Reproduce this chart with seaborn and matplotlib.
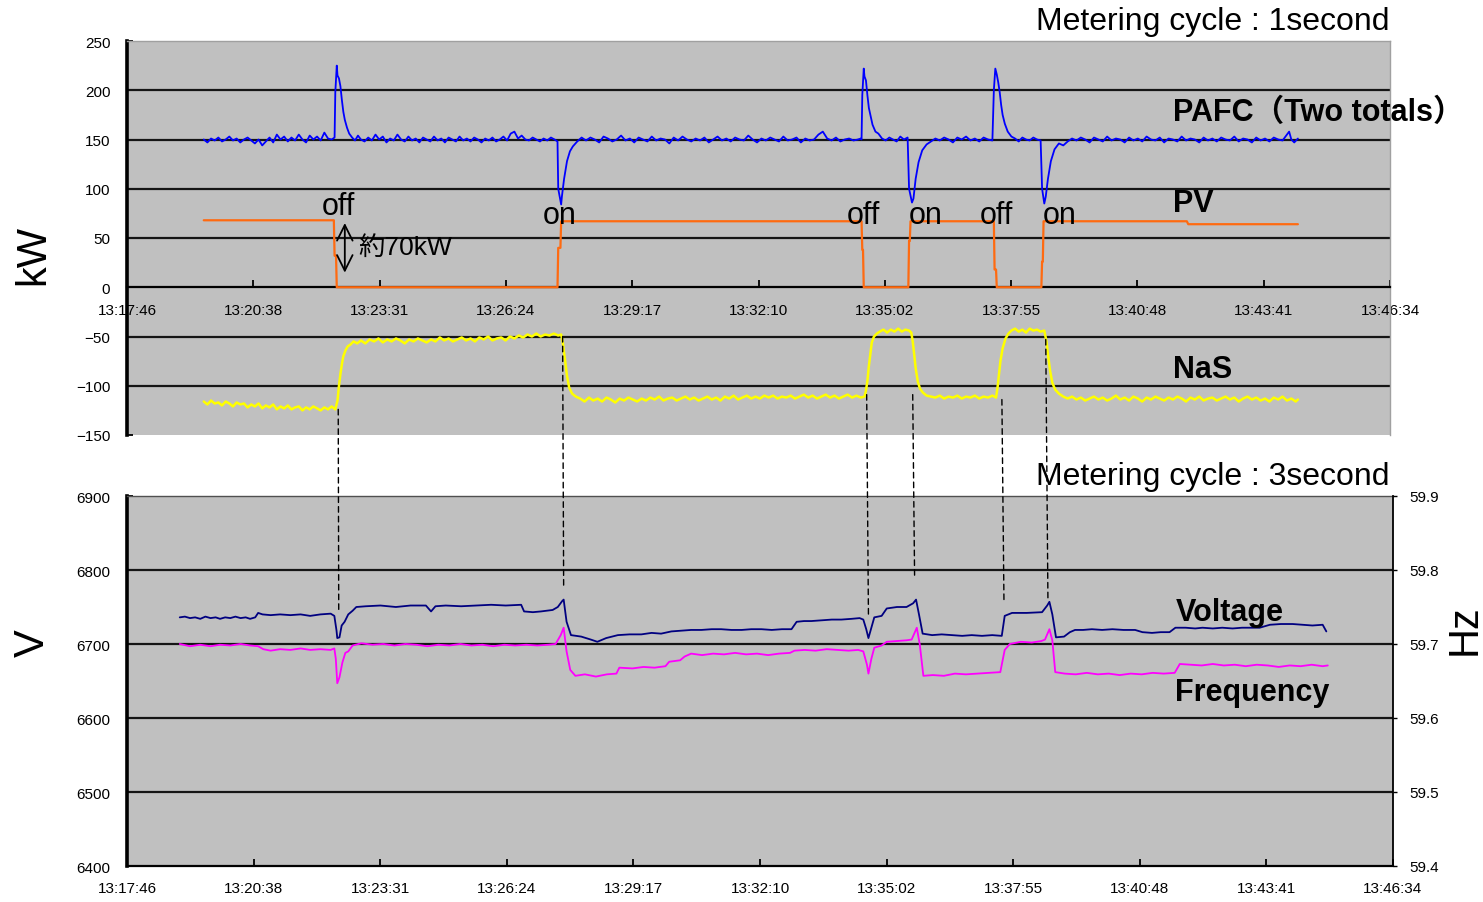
import numpy as np
import pandas as pd
import matplotlib
matplotlib.use("Agg")
import matplotlib.pyplot as plt
import seaborn as sns
from matplotlib.patches import ConnectionPatch

sns.set_theme(style="ticks")
plt.rcParams['font.family'] = ['Liberation Sans', 'Noto Sans CJK JP', 'DejaVu Sans']
plt.rcParams['text.color'] = 'black'

# ---- time axis: seconds after 13:17:46 ----
time_ticks = [0, 172.8, 345.6, 518.4, 691.2, 864.0, 1036.8, 1209.6, 1382.4, 1555.2, 1728.0]
time_labels = ["13:17:46", "13:20:38", "13:23:31", "13:26:24", "13:29:17", "13:32:10",
               "13:35:02", "13:37:55", "13:40:48", "13:43:41", "13:46:34"]

kw_ticks = [-150, -100, -50, 0, 50, 100, 150, 200, 250]
kw_labels = ["\u2212150", "\u2212100", "\u221250", "0", "50", "100", "150", "200", "250"]
v_ticks = [6400, 6500, 6600, 6700, 6800, 6900]
hz_ticks = [59.4, 59.5, 59.6, 59.7, 59.8, 59.9]

# ---- 1-second series (t [s], kW) ----
pafc = [(105,150),(110,147),(115,151),(120,149),(125,152),(130,148),(135,150),(140,153),(145,149),(150,151),
        (155,147),(160,150),(165,152),(170,149),(175,146),(180,150),(185,144),(190,148),(195,152),(200,147),
        (205,155),(210,150),(215,153),(220,148),(225,152),(230,149),(235,155),(240,150),(245,147),(250,154),
        (255,150),(260,153),(265,149),(270,157),(275,151),(280,150),(284,152),
        (285,198),(287,225),(288,215),(290,212),(292,204),(294,190),(296,178),(298,170),(301,162),(304,156),(308,152),
        (312,149),(316,154),(320,150),(325,148),(330,152),(335,149),(340,155),(345,150),(350,153),(355,147),
        (360,151),(365,149),(370,155),(375,150),(380,148),(385,153),(390,149),(395,151),(400,147),(405,152),
        (410,150),(415,148),(420,153),(425,149),(430,151),(435,147),(440,152),(445,150),(450,148),(455,153),
        (460,149),(465,151),(470,148),(475,152),(480,150),(485,147),(490,151),(495,149),(500,152),(505,148),
        (510,150),(515,153),(520,149),(525,156),(530,158),(535,151),(540,154),(545,150),(550,149),(555,152),
        (560,150),(565,148),(570,151),(575,149),(580,152),(585,150),(589,148),
        (590,100),(594,84),(595,92),(598,110),(602,128),(606,138),(610,143),(616,148),(622,152),
        (628,149),(634,152),(640,150),(646,147),(652,153),(658,151),(664,148),(670,150),(676,154),(682,149),
        (688,151),(694,147),(700,152),(706,150),(712,148),(718,153),(724,149),(730,151),(736,150),(742,146),
        (748,152),(754,149),(760,153),(766,150),(772,148),(778,151),(784,149),(790,152),(796,147),(802,150),
        (808,153),(814,149),(820,151),(826,148),(832,152),(838,150),(844,149),(850,154),(856,150),(862,147),
        (868,151),(874,149),(880,152),(886,150),(892,148),(898,153),(904,149),(910,150),(916,152),(922,147),
        (928,151),(934,149),(940,150),(946,155),(952,158),(958,151),(964,149),(970,152),(976,148),(982,150),
        (988,151),(994,149),(1000,150),(1004,151),
        (1005,150),(1006,195),(1008,222),(1009,214),(1011,210),(1013,195),(1015,182),(1017,175),(1020,165),
        (1024,158),(1028,156),(1033,151),
        (1038,149),(1043,152),(1048,150),(1053,148),(1058,153),(1063,150),(1068,152),
        (1070,100),(1074,86),(1076,90),(1079,110),(1083,127),(1088,139),(1094,145),(1100,148),(1106,151),
        (1112,149),(1118,152),(1124,150),(1130,147),(1136,152),(1142,150),(1148,153),(1154,149),(1160,151),
        (1166,148),(1172,152),(1178,150),(1184,149),
        (1186,200),(1188,222),(1190,216),(1192,208),(1194,198),(1196,185),(1198,175),(1201,166),(1205,158),
        (1210,153),(1215,151),
        (1220,148),(1225,152),(1230,150),(1235,149),(1240,152),(1245,150),(1250,149),
        (1252,100),(1255,85),(1257,92),(1260,110),(1264,128),(1269,140),(1275,146),(1281,144),(1287,148),(1293,151),
        (1299,149),(1305,152),(1311,150),(1317,147),(1323,152),(1329,150),(1335,148),(1341,153),(1347,149),(1353,151),
        (1359,150),(1365,147),(1371,152),(1377,149),(1383,151),(1389,148),(1395,153),(1401,150),(1407,149),(1413,152),
        (1419,147),(1425,151),(1431,150),(1437,148),(1443,153),(1449,149),(1455,151),(1461,150),(1467,147),(1473,152),
        (1479,149),(1485,151),(1491,148),(1497,152),(1503,150),(1509,149),(1515,153),(1521,148),(1527,151),(1533,150),
        (1539,147),(1545,152),(1551,149),(1557,151),(1563,148),(1569,152),(1575,150),(1581,149),(1587,155),(1590,158),
        (1593,150),(1597,147),(1602,151)]

pv = [(105,68),(283,68),(284,32),(286,32),(287,0),(589,0),(590,40),(593,40),(594,67),(1005,67),(1006,38),
      (1007,38),(1008,0),(1069,0),(1070,47),(1071,47),(1072,67),(1186,67),(1187,18),(1189,18),(1190,0),
      (1251,0),(1252,26),(1253,26),(1254,67),(1450,67),(1452,64),(1602,64)]

nas = [(105,-116),(110,-119),(115,-115),(120,-118),(125,-117),(130,-120),(135,-116),(140,-118),(145,-121),
       (150,-117),(155,-119),(160,-118),(165,-122),(170,-119),(175,-121),(180,-118),(185,-123),(190,-120),
       (195,-122),(200,-119),(205,-124),(210,-121),(215,-123),(220,-120),(225,-124),(230,-122),(235,-121),
       (240,-125),(245,-122),(250,-124),(255,-121),(260,-123),(265,-125),(270,-122),(275,-124),(280,-121),(285,-124),
       (288,-115),(290,-100),(292,-88),(294,-78),(296,-70),(299,-64),(302,-60),(306,-58),(310,-55),(315,-57),
       (320,-54),(326,-57),(332,-53),(338,-55),(344,-52),(350,-56),(356,-53),(362,-55),(368,-52),(374,-54),
       (380,-57),(386,-53),(392,-55),(398,-52),(404,-54),(410,-56),(416,-53),(422,-55),(428,-51),(434,-54),
       (440,-52),(446,-55),(452,-53),(458,-51),(464,-54),(470,-52),(476,-55),(482,-51),(488,-53),(494,-50),
       (500,-54),(506,-52),(512,-51),(518,-54),(524,-50),(530,-52),(536,-49),(542,-51),(548,-48),(554,-50),
       (560,-47),(566,-50),(572,-48),(578,-49),(584,-47),(590,-49),(594,-48),
       (596,-55),(599,-72),(602,-90),(605,-102),(609,-108),(614,-111),(620,-113),
       (626,-116),(632,-112),(638,-115),(644,-113),(650,-116),(656,-112),(662,-114),(668,-117),(674,-113),
       (680,-115),(686,-112),(692,-114),(698,-116),(704,-113),(710,-115),(716,-112),(722,-114),(728,-111),
       (734,-115),(740,-113),(746,-112),(752,-115),(758,-113),(764,-111),(770,-114),(776,-112),(782,-115),
       (788,-113),(794,-111),(800,-114),(806,-112),(812,-115),(818,-111),(824,-113),(830,-110),(836,-114),
       (842,-112),(848,-110),(854,-113),(860,-111),(866,-113),(872,-110),(878,-112),(884,-110),(890,-113),
       (896,-111),(902,-112),(908,-110),(914,-113),(920,-111),(926,-109),(932,-112),(938,-110),(944,-113),
       (950,-111),(956,-109),(962,-112),(968,-110),(974,-113),(980,-111),(986,-109),(992,-112),(998,-110),
       (1004,-112),(1009,-111),
       (1011,-105),(1013,-95),(1015,-80),(1017,-68),(1019,-56),(1022,-50),(1026,-47),(1030,-45),(1035,-43),
       (1040,-46),(1045,-43),(1050,-45),(1055,-42),(1060,-45),(1065,-43),(1070,-44),(1073,-46),
       (1075,-55),(1077,-68),(1079,-82),(1082,-96),(1085,-103),(1089,-107),(1094,-110),(1100,-111),(1106,-112),
       (1112,-110),(1118,-113),(1124,-111),(1130,-112),(1136,-110),(1142,-113),(1148,-111),(1154,-112),
       (1160,-110),(1166,-113),(1172,-111),(1178,-112),(1184,-110),(1189,-112),
       (1191,-102),(1193,-88),(1195,-75),(1198,-62),(1202,-52),(1206,-47),(1210,-44),(1215,-42),(1220,-45),
       (1225,-43),(1230,-46),(1235,-42),(1240,-44),(1245,-43),(1250,-45),(1255,-44),
       (1258,-55),(1260,-68),(1263,-85),(1266,-97),(1270,-104),(1275,-108),(1281,-111),(1287,-113),
       (1293,-111),(1299,-114),(1305,-112),(1311,-115),(1317,-113),(1323,-111),(1329,-114),(1335,-112),
       (1341,-115),(1347,-113),(1353,-110),(1359,-114),(1365,-112),(1371,-115),(1377,-111),(1383,-113),
       (1389,-116),(1395,-112),(1401,-114),(1407,-111),(1413,-113),(1419,-115),(1425,-112),(1431,-114),
       (1437,-111),(1443,-113),(1449,-116),(1455,-112),(1461,-114),(1467,-111),(1473,-115),(1479,-113),
       (1485,-112),(1491,-115),(1497,-113),(1503,-111),(1509,-114),(1515,-112),(1521,-116),(1527,-113),
       (1533,-111),(1539,-114),(1545,-112),(1551,-115),(1557,-113),(1563,-116),(1569,-112),(1575,-114),
       (1581,-111),(1587,-115),(1593,-113),(1599,-116),(1602,-114)]

# ---- 3-second series ----
voltage = [(72,6736),(79,6737),(86,6735),(93,6736),(100,6734),(107,6737),(114,6735),(121,6736),(127,6734),
           (134,6736),(141,6735),(148,6737),(155,6735),(162,6736),(168,6734),(175,6736),(179,6742),(185,6740),
           (196,6739),(209,6740),(223,6739),(237,6740),(250,6738),(264,6740),(278,6741),(283,6738),(286,6718),
           (287,6708),(290,6709),(293,6725),(297,6730),(302,6740),(308,6745),(313,6750),(326,6751),(346,6752),
           (367,6750),(387,6752),(408,6752),(415,6744),(421,6751),(435,6752),(456,6751),(476,6752),(497,6753),
           (517,6752),(538,6753),(542,6744),(554,6743),(565,6744),(581,6746),(588,6750),(594,6758),(596,6760),
           (600,6730),(606,6712),(620,6710),(633,6706),(642,6703),(654,6708),(670,6712),(686,6713),(702,6713),
           (716,6715),(729,6714),(743,6717),(757,6718),(770,6719),(784,6719),(798,6720),(811,6720),(825,6719),
           (839,6719),(852,6720),(866,6720),(880,6719),(894,6720),(907,6720),(914,6730),(924,6731),(934,6731),
           (948,6732),(962,6733),(975,6733),(989,6734),(1000,6735),(1005,6733),(1009,6720),(1012,6708),
           (1016,6722),(1020,6736),(1030,6738),(1037,6748),(1051,6750),(1064,6750),(1073,6755),(1077,6760),
           (1081,6740),(1086,6714),(1099,6712),(1112,6713),(1126,6712),(1140,6711),(1153,6712),(1167,6711),
           (1181,6712),(1194,6711),(1198,6738),(1208,6742),(1228,6742),(1249,6743),(1256,6752),(1259,6757),
           (1263,6740),(1268,6709),(1279,6710),(1287,6716),(1294,6719),(1305,6719),(1317,6720),(1331,6719),
           (1345,6720),(1360,6719),(1376,6719),(1386,6716),(1399,6715),(1411,6716),(1423,6716),(1431,6722),
           (1445,6722),(1458,6721),(1468,6722),(1482,6721),(1495,6722),(1509,6721),(1522,6722),(1535,6722),
           (1546,6722),(1560,6726),(1575,6727),(1591,6727),(1605,6726),(1618,6725),(1632,6726),(1637,6717)]

frequency = [(72,59.700),(86,59.697),(100,59.699),(114,59.697),(127,59.699),(141,59.698),(155,59.700),
             (168,59.698),(179,59.697),(186,59.693),(196,59.691),(209,59.693),(223,59.692),(237,59.694),
             (250,59.692),(264,59.693),(278,59.692),(283,59.694),(285,59.680),(287,59.647),(290,59.655),
             (294,59.675),(298,59.688),(302,59.690),(308,59.698),(320,59.701),(335,59.699),(350,59.700),
             (365,59.698),(380,59.700),(395,59.699),(410,59.697),(425,59.699),(440,59.698),(455,59.700),
             (470,59.698),(485,59.699),(500,59.697),(515,59.699),(530,59.698),(545,59.699),(560,59.698),
             (575,59.699),(585,59.700),(592,59.712),(596,59.722),(600,59.690),(605,59.665),(612,59.657),
             (625,59.659),(640,59.656),(655,59.659),(668,59.660),(672,59.668),(690,59.667),(705,59.669),
             (720,59.668),(735,59.670),(740,59.676),(755,59.678),(761,59.683),(770,59.687),(785,59.685),
             (800,59.687),(815,59.686),(830,59.688),(845,59.686),(860,59.687),(875,59.685),(890,59.687),
             (905,59.688),(911,59.691),(925,59.692),(940,59.691),(955,59.693),(970,59.692),(985,59.691),
             (998,59.692),(1005,59.690),(1010,59.672),(1012,59.660),(1016,59.680),(1020,59.695),(1030,59.698),
             (1037,59.703),(1050,59.704),(1064,59.705),(1071,59.706),(1075,59.715),(1078,59.722),(1082,59.700),
             (1087,59.657),(1100,59.658),(1115,59.657),(1130,59.660),(1145,59.659),(1160,59.660),(1175,59.661),
             (1192,59.662),(1198,59.692),(1205,59.700),(1220,59.703),(1235,59.702),(1248,59.704),(1253,59.706),
             (1259,59.720),(1263,59.705),(1267,59.662),(1280,59.660),(1295,59.659),(1310,59.661),(1325,59.659),
             (1340,59.660),(1355,59.658),(1370,59.660),(1385,59.659),(1400,59.661),(1415,59.660),(1430,59.661),
             (1437,59.673),(1452,59.672),(1467,59.671),(1482,59.673),(1497,59.671),(1512,59.672),(1527,59.670),
             (1542,59.672),(1557,59.671),(1572,59.669),(1587,59.671),(1602,59.670),(1617,59.672),(1632,59.670),
             (1639,59.671)]

# switching events: (time, upper end on kW/NaS scale, lower end on V scale)
events = [(289, -124, 6745), (596, -50, 6777), (1012, -109, 6740),
          (1075, -109, 6792), (1197, -114, 6757), (1257, -53, 6761)]
switch_labels = [(289, 82, "off"), (592, 73, "on"), (1007, 73, "off"),
                 (1093, 73, "on"), (1190, 73, "off"), (1276, 73, "on")]

W, H = 1483, 903
fig = plt.figure(figsize=(W / 100, H / 100), dpi=100)
fig.patch.set_facecolor("white")


def box(x0, y0, x1, y1):
    return [x0 / W, 1 - y1 / H, (x1 - x0) / W, (y1 - y0) / H]


ax = fig.add_axes(box(127, 42, 1390, 436))
axb = fig.add_axes(box(127, 497, 1393, 867))
axh = axb.twinx()

BG = "#c0c0c0"
GRID = "#151515"


def draw(series, axis, color, lw):
    df = pd.DataFrame(series, columns=["t", "v"])
    sns.lineplot(data=df, x="t", y="v", ax=axis, color=color, lw=lw,
                 estimator=None, sort=False, legend=False, zorder=4)


# ---- upper panel ----
ax.set_facecolor(BG)
for g in [-100, -50, 50, 100, 150, 200]:
    ax.axhline(g, color=GRID, lw=1.6, zorder=1)
draw(pafc, ax, "#0000ff", 1.3)
draw(pv, ax, "#ff6a10", 1.6)
draw(nas, ax, "#ffff00", 1.8)
ax.set_xlim(0, 1728)
ax.set_ylim(-150, 250)
ax.set_xlabel("")
ax.set_ylabel("")
ax.spines["bottom"].set_position(("data", 0))
ax.spines["bottom"].set_color("black")
ax.spines["bottom"].set_linewidth(1.6)
ax.spines["left"].set_color("black")
ax.spines["left"].set_linewidth(2.6)
for s in ["top", "right"]:
    ax.spines[s].set_color("#a0a0a0")
    ax.spines[s].set_linewidth(1.0)
ax.set_xticks(time_ticks, time_labels)
ax.set_yticks(kw_ticks, kw_labels)
ax.tick_params(axis="x", direction="in", length=5, width=1.3, pad=11, labelsize=11, colors="black")
ax.tick_params(axis="y", direction="in", length=4, width=1.3, pad=12, labelsize=11, colors="black")

# ---- lower panel ----
axb.set_facecolor(BG)
for g in [6500, 6600, 6700, 6800]:
    axb.axhline(g, color=GRID, lw=1.6, zorder=1)
draw(voltage, axb, "#000080", 1.3)
draw(frequency, axh, "#ff00ff", 1.3)
axb.set_xlim(0, 1728)
axb.set_ylim(6400, 6900)
axh.set_ylim(59.4, 59.9)
axh.set_xlim(0, 1728)
for a in (axb, axh):
    a.set_xlabel("")
    a.set_ylabel("")
axb.set_xticks(time_ticks, time_labels)
axb.set_yticks(v_ticks, [str(v) for v in v_ticks])
axh.set_yticks(hz_ticks, [f"{h:.1f}" for h in hz_ticks])
axb.tick_params(axis="x", direction="in", length=5, width=1.3, pad=11, labelsize=11, colors="black")
axb.tick_params(axis="y", direction="in", length=4, width=1.3, pad=12, labelsize=11, colors="black")
axh.tick_params(axis="y", direction="out", length=3, width=1.0, pad=9, labelsize=11, colors="black")
axb.spines["left"].set_linewidth(2.6)
axb.spines["left"].set_color("black")
axb.spines["bottom"].set_linewidth(1.6)
axb.spines["bottom"].set_color("black")
axb.spines["top"].set_color("#505050")
axb.spines["top"].set_linewidth(1.0)
axh.spines["right"].set_color("black")
axh.spines["right"].set_linewidth(1.3)
axh.spines["top"].set_visible(False)
axh.spines["left"].set_visible(False)
axh.spines["bottom"].set_visible(False)
axb.spines["right"].set_visible(False)

# ---- dashed event markers linking the panels ----
for t, ytop, ybot in events:
    con = ConnectionPatch(xyA=(t, ytop), coordsA=ax.transData,
                          xyB=(t, ybot), coordsB=axb.transData,
                          color="black", lw=1.0, linestyle=(0, (4, 3)), zorder=6)
    fig.add_artist(con)

# ---- annotations ----
for t, y, s in switch_labels:
    ax.text(t, y, s, ha="center", va="center", fontsize=22, color="black", zorder=7)
ax.annotate("", xy=(298, 12), xytext=(298, 68),
            arrowprops=dict(arrowstyle="<->", color="black", lw=1.3, mutation_scale=28), zorder=7)
ax.text(316, 41, "約70kW", ha="left", va="center", fontsize=19, color="black",
        family=["Liberation Sans", "Noto Sans CJK JP"], zorder=7)

bold = dict(fontsize=22, fontweight="bold", ha="left", va="center", color="black", zorder=7,
            family=["Liberation Sans", "Noto Sans CJK JP"])
ax.text(1431, 178, "PAFC（Two totals）", **bold)
ax.text(1431, 86, "PV", **bold)
ax.text(1431, -83, "NaS", **bold)
axb.text(1431, 6743, "Voltage", **bold)
axb.text(1431, 6635, "Frequency", **bold)

fig.text(1390 / W, 1 - 22 / H, "Metering cycle : 1second", ha="right", va="center",
         fontsize=23, color="black")
fig.text(1390 / W, 1 - 477 / H, "Metering cycle : 3second", ha="right", va="center",
         fontsize=23, color="black")
fig.text(33 / W, 1 - 255 / H, "kW", rotation=90, ha="center", va="center", fontsize=30, color="black")
fig.text(33 / W, 1 - 643 / H, "V", rotation=90, ha="center", va="center", fontsize=30, color="black")
fig.text(1465 / W, 1 - 630 / H, "Hz", rotation=90, ha="center", va="center", fontsize=30, color="black")

fig.savefig("out.png", dpi=100, facecolor="white")
